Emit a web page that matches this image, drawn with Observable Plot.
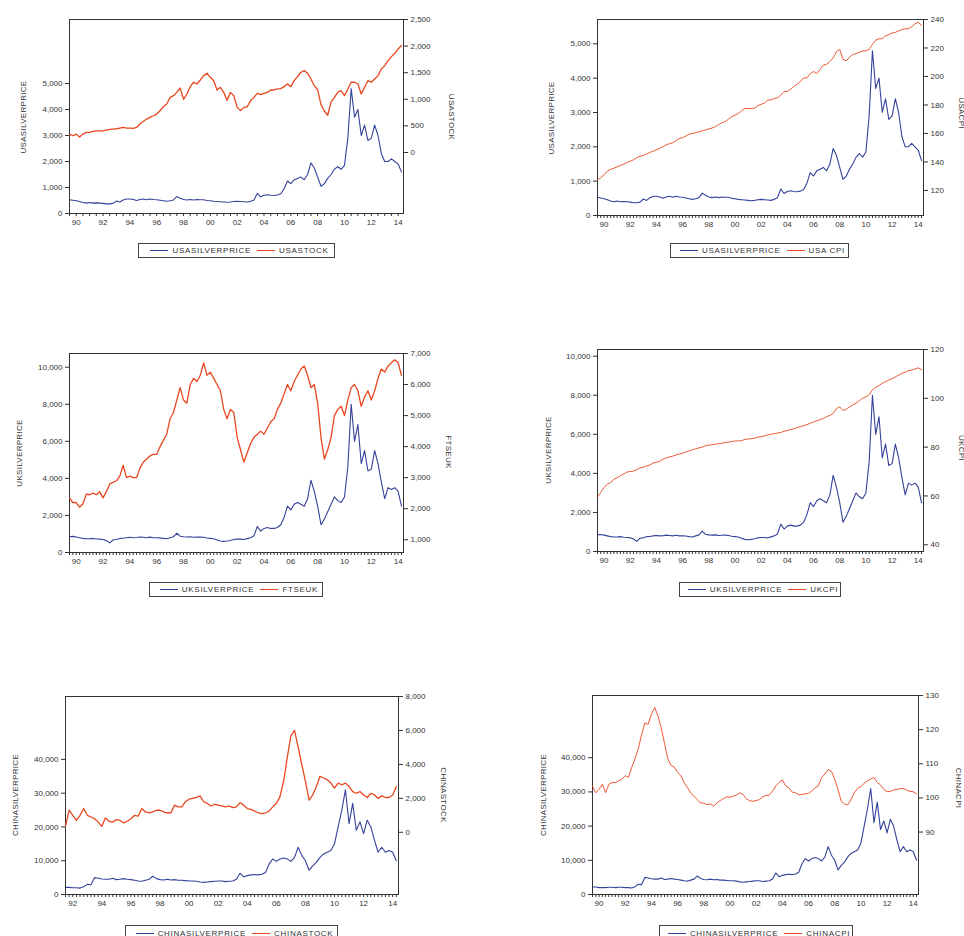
<!DOCTYPE html>
<html><head><meta charset="utf-8">
<script src="https://cdn.jsdelivr.net/npm/d3@7"></script>
<script src="https://cdn.jsdelivr.net/npm/@observablehq/plot@0.6"></script>
<style>
body{margin:0;background:#fff;}
#root{position:relative;width:964px;height:936px;overflow:hidden;font-family:"Liberation Sans",Arial,sans-serif;}
#root svg{position:absolute;}
.ytitle{position:absolute;font-size:8px;color:#333;white-space:nowrap;letter-spacing:0.3px;}
.legend{position:absolute;border:1px solid #444;background:#fff;display:flex;align-items:center;justify-content:center;font-size:8px;letter-spacing:0.7px;color:#333;box-sizing:border-box;white-space:nowrap;}
.sw{display:inline-block;width:18px;height:0;border-top:1px solid;margin:0 4px 0 6px;}
</style></head><body><div id="root"></div><script>
// ---------- data (quarterly, first value at start year) ----------
const usSilver = [
 530,510,490,460, 420,400,420,400, 410,400,390,370, 370,390,480,440,
 520,560,560,540, 500,540,560,530, 560,540,530,510, 490,470,490,520,
 650,590,540,520, 540,520,540,530, 530,500,490,470, 460,450,440,430,
 440,460,470,460, 450,440,470,520, 770,640,700,720, 700,690,710,760,
 950,1250,1150,1300, 1350,1400,1300,1500, 1950,1750,1400,1050, 1150,1350,1500,1700,
 1800,1700,1850,2900, 4800,3700,4000,3000, 3400,2800,2900,3400, 3000,2300,2000,2000,
 2100,2000,1900,1600];
const usStock = [
 345,314,345,290, 345,377,377,396, 408,408,408,420, 433,440,446,459,
 471,459,459,452, 471,534,584,628, 660,690,722,785, 860,910,1036,1068,
 1130,1212,1000,1100, 1238,1320,1288,1363, 1445,1489,1413,1350, 1175,1225,1130,980,
 1130,1068,848,790, 848,860,974,1036, 1112,1087,1112,1130, 1175,1175,1194,1200,
 1238,1288,1238,1350, 1426,1508,1539,1489, 1382,1256,1180,900, 780,700,950,1036,
 1130,1162,1068,1194, 1320,1320,1288,1100, 1225,1350,1320,1382, 1445,1570,1633,1727,
 1802,1865,1947,2010];
const usCpi = [
 127.5,129.0,131.0,133.5, 134.8,135.6,136.5,137.5, 138.5,139.5,140.5,141.5, 143.0,144.0,144.5,145.5,
 146.7,147.5,148.5,149.5, 150.7,152.0,152.8,153.5, 155.0,156.5,157.0,158.2, 159.5,160.0,160.5,161.2,
 161.8,162.5,163.2,163.8, 164.7,166.2,167.5,168.4, 170.0,171.8,172.8,174.0, 175.8,177.5,177.5,177.5,
 177.8,179.5,180.5,181.3, 183.5,183.5,184.5,185.0, 187.0,189.5,189.5,191.0, 193.0,194.5,196.5,199.0,
 199.0,202.0,203.5,202.0, 205.0,208.0,208.5,210.5, 213.0,217.5,219.0,212.0, 211.0,213.5,215.5,216.0,
 217.0,217.8,218.0,219.0, 222.5,225.5,226.5,226.5, 228.5,229.5,230.5,231.0, 232.0,233.0,233.5,233.5,
 235.0,237.0,238.0,236.0];
const ukSilver = [
 850,870,840,800, 760,740,740,760, 730,720,700,640, 520,680,700,760,
 770,800,820,800, 810,840,820,800, 830,800,800,790, 760,740,800,850,
 1040,880,850,840, 850,820,830,840, 820,780,760,740, 680,620,600,620,
 650,700,720,720, 700,750,800,900, 1400,1150,1300,1350, 1300,1300,1350,1500,
 1900,2500,2300,2600, 2700,2600,2500,2900, 3900,3300,2500,1500, 1800,2200,2600,3000,
 2800,2700,3000,4600, 8000,6000,6900,4800, 5500,4400,4500,5500, 4800,3800,2900,3500,
 3400,3500,3300,2500];
const ftseUk = [
 2350,2200,2200,2050, 2150,2470,2450,2500, 2450,2550,2350,2550, 2800,2850,2900,3050,
 3400,3000,3050,3000, 3000,3300,3500,3600, 3700,3750,3750,4000, 4200,4400,4900,5100,
 5500,5900,5500,5400, 6000,6200,6100,6300, 6700,6300,6400,6200, 6000,5800,5200,4900,
 5200,5100,4300,3900, 3500,3800,4100,4300, 4400,4500,4400,4600, 4800,4900,5200,5400,
 5700,6000,5800,6100, 6300,6500,6600,6300, 5900,6000,5400,4300, 3600,3900,4300,5000,
 5200,5300,5000,5500, 5900,6000,5800,5300, 5600,5800,5500,5800, 6200,6500,6400,6600,
 6700,6800,6700,6300];
const ukCpi = [
 59.5,61.5,63.5,64.8, 65.5,66.8,67.5,68.3, 69.0,69.8,70.0,70.2, 70.8,71.5,71.8,72.3,
 72.7,73.5,73.8,74.2, 75.0,75.6,76.0,76.3, 76.8,77.2,77.5,78.0, 78.5,78.9,79.3,79.7,
 80.0,80.6,80.8,81.0, 81.2,81.4,81.6,82.0, 82.0,82.3,82.5,82.6, 82.6,83.2,83.3,83.5,
 83.6,84.1,84.3,84.6, 85.0,85.3,85.5,85.8, 86.0,86.5,86.8,87.2, 87.5,88.0,88.4,88.8,
 89.2,89.8,90.3,90.8, 91.2,91.8,92.5,93.0, 93.8,95.8,96.5,95.0, 95.5,96.5,97.3,98.0,
 99.0,100.0,100.6,101.5, 103.5,104.5,105.2,106.2, 106.8,107.5,108.0,108.8, 109.5,110.2,110.7,111.3,
 111.5,112.0,112.5,111.8];
const chinaSilver = [
 2200,2200,2000,2000, 2000,2100,2100,2000, 2100,2100,2000,2000, 1900,2300,3000,2900,
 5000,4800,4600,4500, 4500,4800,4400,4500, 4700,4500,4400,4200, 4000,3900,4200,4500,
 5400,4700,4400,4300, 4500,4300,4400,4200, 4200,4100,4000,4000, 3900,3700,3600,3700,
 3800,3900,4000,4000, 3800,3900,4000,4500, 6300,5200,5600,5800, 5900,5800,6000,6500,
 9000,10500,9800,10500, 10800,10500,9800,11000, 14000,11500,10000,7200, 8500,9500,11000,12000,
 12500,13000,15000,20000, 25000,31000,21000,27000, 19000,21500,18000,22000, 20000,16000,12500,14000,
 12500,13000,12500,10000];
const chinaStock = [ // from 1992
 350,1300,1000,700, 1000,1400,1000,900, 800,600,350,850, 650,600,750,700,
 550,650,800,1000, 950,1400,1200,1150, 1200,1300,1300,1200, 1150,1150,1600,1500,
 1500,1800,1950,2000, 2050,2150,1800,1700, 1550,1650,1600,1550, 1500,1550,1450,1500,
 1750,1600,1400,1350, 1250,1150,1100,1150, 1250,1500,1700,2100, 3000,4400,5700,6000,
 5000,4000,3000,1900, 2200,2700,3300,3200, 3100,2900,2600,2900, 2800,2900,2700,2400,
 2300,2400,2200,2050, 2300,2200,2000,2150, 2050,2050,2200,2700];
const chinaCpi = [
 103.5,101.5,102.5,104.0, 101.5,104.0,104.5,104.5, 105.0,105.5,106.5,106.0, 109.0,111.5,114.5,118.5,
 122.0,121.5,124.5,126.5, 124.0,120.5,116.0,111.5, 109.5,109.0,107.5,106.5, 104.5,103.0,101.5,100.5,
 99.5,98.5,98.5,98.0, 98.2,97.6,98.5,99.2, 99.8,100.3,100.2,100.5, 100.8,101.5,101.0,99.7,
 99.2,99.0,99.2,99.5, 100.3,100.7,100.8,102.0, 103.5,104.5,105.3,103.5, 103.0,101.7,101.5,100.9,
 101.0,101.2,101.3,102.0, 103.0,103.5,106.0,107.0, 108.3,107.8,105.5,102.5, 99.0,98.2,98.0,99.5,
 101.5,102.8,103.3,104.3, 105.0,105.5,106.0,104.5, 103.8,102.5,101.8,101.9, 102.3,102.5,102.7,102.8,
 102.3,101.9,101.8,101.2];

const labelYears90 = [1990,1992,1994,1996,1998,2000,2002,2004,2006,2008,2010,2012,2014];
const labelYears92 = [1992,1994,1996,1998,2000,2002,2004,2006,2008,2010,2012,2014];

// ---------- styling ----------
const BLUE = "#34429a", RED = "#e8471f";
const FONT = "'Liberation Sans', Arial, sans-serif";
const toSeries = (vals, start) => vals.map((v, i) => ({t: start + i / 4, v}));
const fmt = d3.format(",");
const fmtYear = d => String(Math.floor(d) % 100).padStart(2, "0");

const panels = [
 {frame:[69,19,403,213], xd:[1990,2014.9], minor:0.5, years:labelYears90,
  L:{s:toSeries(usSilver,1990), d:[0,7460], ticks:d3.range(0,5001,1000), title:"USASILVERPRICE", tx:23, ty:117},
  R:{s:toSeries(usStock,1990), d:[-1147,2500], ticks:d3.range(0,2501,500), title:"USASTOCK", tx:451, ty:117, w:1.3},
  legend:{box:[138,243,335,258], names:["USASILVERPRICE","USASTOCK"]}},
 {frame:[597,19,923,215], xd:[1990,2014.9], minor:0.25, years:labelYears90,
  L:{s:toSeries(usSilver,1990), d:[0,5708], ticks:d3.range(0,5001,1000), title:"USASILVERPRICE", tx:551, ty:118},
  R:{s:toSeries(usCpi,1990), d:[102.4,240], ticks:d3.range(120,241,20), title:"USACPI", tx:961, ty:113, w:0.9},
  legend:{box:[670,243,849,258], names:["USASILVERPRICE","USA CPI"]}},
 {frame:[69,353,403,552], xd:[1990,2014.9], minor:0.25, years:labelYears90,
  L:{s:toSeries(ukSilver,1990), d:[0,10740], ticks:d3.range(0,10001,2000), title:"UKSILVERPRICE", tx:19, ty:453},
  R:{s:toSeries(ftseUk,1990), d:[590,7000], ticks:d3.range(1000,7001,1000), title:"FTSEUK", tx:448, ty:452, w:1.3},
  legend:{box:[149,582,323,597], names:["UKSILVERPRICE","FTSEUK"]}},
 {frame:[597,349,923,551], xd:[1990,2014.9], minor:0.25, years:labelYears90,
  L:{s:toSeries(ukSilver,1990), d:[0,10343], ticks:d3.range(0,10001,2000), title:"UKSILVERPRICE", tx:548, ty:450},
  R:{s:toSeries(ukCpi,1990), d:[37.25,120], ticks:d3.range(40,121,20), title:"UKCPI", tx:961, ty:448, w:0.9},
  legend:{box:[679,582,841,597], names:["UKSILVERPRICE","UKCPI"]}},
 {frame:[65,696,398,894], xd:[1992,2014.9], minor:0.25, years:labelYears92,
  L:{s:toSeries(chinaSilver,1990).filter(d => d.t >= 1992), d:[0,58620], ticks:d3.range(0,40001,10000), title:"CHINASILVERPRICE", tx:15, ty:795},
  R:{s:toSeries(chinaStock,1992), d:[-3665,8000], ticks:d3.range(0,8001,2000), title:"CHINASTOCK", tx:443, ty:795, w:1.3},
  legend:{box:[125,925,338,941], names:["CHINASILVERPRICE","CHINASTOCK"]}},
 {frame:[592,695,918,894], xd:[1990,2014.9], minor:0.25, years:labelYears90,
  L:{s:toSeries(chinaSilver,1990), d:[0,58190], ticks:d3.range(0,40001,10000), title:"CHINASILVERPRICE", tx:543, ty:795},
  R:{s:toSeries(chinaCpi,1990), d:[71.7,130], ticks:d3.range(90,131,10), title:"CHINACPI", tx:958, ty:788, w:0.9},
  legend:{box:[659,925,853,941], names:["CHINASILVERPRICE","CHINACPI"]}}
];

const root = document.getElementById("root");
const mL = 60, mR = 60, mT = 10, mB = 25;

for (const p of panels) {
  const [fx0, fy0, fx1, fy1] = p.frame;
  const width = fx1 - fx0 + mL + mR, height = fy1 - fy0 + mT + mB;
  const base = {width, height, marginLeft: mL, marginRight: mR, marginTop: mT, marginBottom: mB,
    style: {background: "transparent", color: "#333", fontSize: "8px", fontFamily: FONT, overflow: "visible"}};
  const minorTicks = d3.range(p.xd[0], p.xd[1] + 1e-9, p.minor);
  const labelTicks = p.years.map(y => y + 0.5);

  const left = Plot.plot({...base,
    x: {domain: p.xd}, y: {domain: p.L.d},
    marks: [
      Plot.axisX(minorTicks, {anchor: "bottom", tickSize: 3, tickFormat: () => "", label: null}),
      Plot.axisX(labelTicks, {anchor: "bottom", tickSize: 0, tickPadding: 6, tickFormat: fmtYear, label: null}),
      Plot.axisY(p.L.ticks, {anchor: "left", tickSize: 4, tickPadding: 3, tickFormat: fmt, label: null}),
      Plot.line(p.L.s, {x: "t", y: "v", stroke: BLUE, strokeWidth: 1.1}),
      Plot.frame({stroke: "#333", strokeWidth: 1})
    ]});
  const right = Plot.plot({...base,
    x: {domain: p.xd, axis: null}, y: {domain: p.R.d},
    marks: [
      Plot.axisY(p.R.ticks, {anchor: "right", tickSize: 4, tickPadding: 3, tickFormat: fmt, label: null}),
      Plot.line(p.R.s, {x: "t", y: "v", stroke: RED, strokeWidth: p.R.w})
    ]});
  for (const svg of [left, right]) {
    svg.style.left = (fx0 - mL) + "px";
    svg.style.top = (fy0 - mT) + "px";
    root.appendChild(svg);
  }
  // axis titles
  for (const [ax, rot] of [[p.L, -90], [p.R, 90]]) {
    const t = document.createElement("div");
    t.className = "ytitle";
    t.textContent = ax.title;
    t.style.left = ax.tx + "px";
    t.style.top = ax.ty + "px";
    t.style.transform = `translate(-50%,-50%) rotate(${rot}deg)`;
    root.appendChild(t);
  }
  // legend
  const [lx0, ly0, lx1, ly1] = p.legend.box;
  const lg = document.createElement("div");
  lg.className = "legend";
  lg.style.left = lx0 + "px"; lg.style.top = ly0 + "px";
  lg.style.width = (lx1 - lx0) + "px"; lg.style.height = (ly1 - ly0) + "px";
  p.legend.names.forEach((n, i) => {
    const sw = document.createElement("span");
    sw.className = "sw"; sw.style.borderColor = i === 0 ? BLUE : RED;
    const tx = document.createElement("span");
    tx.textContent = n;
    lg.appendChild(sw); lg.appendChild(tx);
  });
  root.appendChild(lg);
}
</script></body></html>
